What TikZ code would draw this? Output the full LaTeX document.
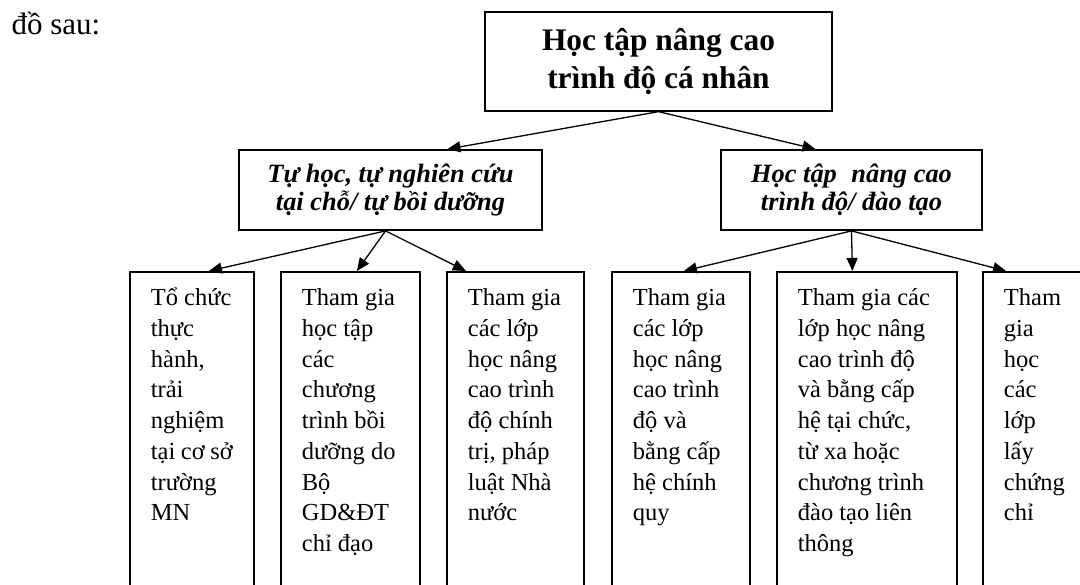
\documentclass[tikz,border=0pt]{standalone}
\usepackage{fontspec}
\setmainfont{Liberation Serif}
\usetikzlibrary{arrows.meta}
\begin{document}
\begin{tikzpicture}[x=1pt,y=-1pt,
  box/.style={draw, line width=1.8pt, inner sep=0pt},
  topbox/.style={box, minimum width=347pt, minimum height=98.5pt, align=center,
    font=\fontsize{31.4}{37.5}\selectfont\bfseries},
  midbox/.style={box, minimum height=80pt, align=center,
    font=\fontsize{26.4}{28}\selectfont\bfseries\itshape},
  leaf/.style={box, anchor=north west, inner xsep=21pt, inner ysep=0pt,
    font=\fontsize{24.5}{30.7}\selectfont},
  arr/.style={line width=1.3pt, -{Triangle[length=13pt,width=11pt]}}]
\useasboundingbox (0,0) rectangle (1080,585);
\clip (0,0) rectangle (1080,585);
\newcommand{\leaftext}[2]{\parbox[t][330pt][t]{#1}{\raggedright\rule{0pt}{34pt}#2}}

\node[anchor=base west, font=\fontsize{31}{36}\selectfont] (intro) at (8,35) {đồ sau:};

\node[topbox] (top) at (658.5,61.5) {Học tập nâng cao\\trình độ cá nhân};

\node[midbox, minimum width=303pt] (lm) at (390.5,190) {Tự học, tự nghiên cứu\\tại chỗ/ tự bồi dưỡng};
\node[midbox, minimum width=261pt] (rm) at (851.5,190) {Học tập\hspace{0.3em} nâng cao\\trình độ/ đào tạo};

\node[leaf] (b1) at (129,271) {\leaftext{82pt}{Tổ chức\\thực\\hành,\\trải\\nghiệm\\tại cơ sở\\trường\\MN}};
\node[leaf] (b2) at (280,271) {\leaftext{97pt}{Tham gia\\học tập\\các\\chương\\trình bồi\\dưỡng do\\Bộ\\GD\&ĐT\\chỉ đạo}};
\node[leaf] (b3) at (446,271) {\leaftext{95pt}{Tham gia\\các lớp\\học nâng\\cao trình\\độ chính\\trị, pháp\\luật Nhà\\nước}};
\node[leaf] (b4) at (611,271) {\leaftext{96pt}{Tham gia\\các lớp\\học nâng\\cao trình\\độ và\\bằng cấp\\hệ chính\\quy}};
\node[leaf] (b5) at (776,271) {\leaftext{138pt}{Tham gia các\\lớp học nâng\\cao trình độ\\và bằng cấp\\hệ tại chức,\\từ xa hoặc\\chương trình\\đào tạo liên\\thông}};
\node[leaf] (b6) at (982,271) {\leaftext{96pt}{Tham\\gia\\học\\các\\lớp\\lấy\\chứng\\chỉ}};

\draw[arr] (top.south) -- ([xshift=57pt]lm.north);
\draw[arr] (top.south) -- ([xshift=-36pt]rm.north);

\draw[arr] ([xshift=-5pt]lm.south) -- ([xshift=17pt]b1.north);
\draw[arr] ([xshift=-5pt]lm.south) -- ([xshift=6.5pt]b2.north);
\draw[arr] ([xshift=-5pt]lm.south) -- ([xshift=-49.5pt]b3.north);

\draw[arr] (rm.south) -- ([xshift=3pt]b4.north);
\draw[arr] (rm.south) -- ([xshift=-14.5pt]b5.north);
\draw[arr] (rm.south) -- ([xshift=24pt]b6.north west);
\end{tikzpicture}
\end{document}
